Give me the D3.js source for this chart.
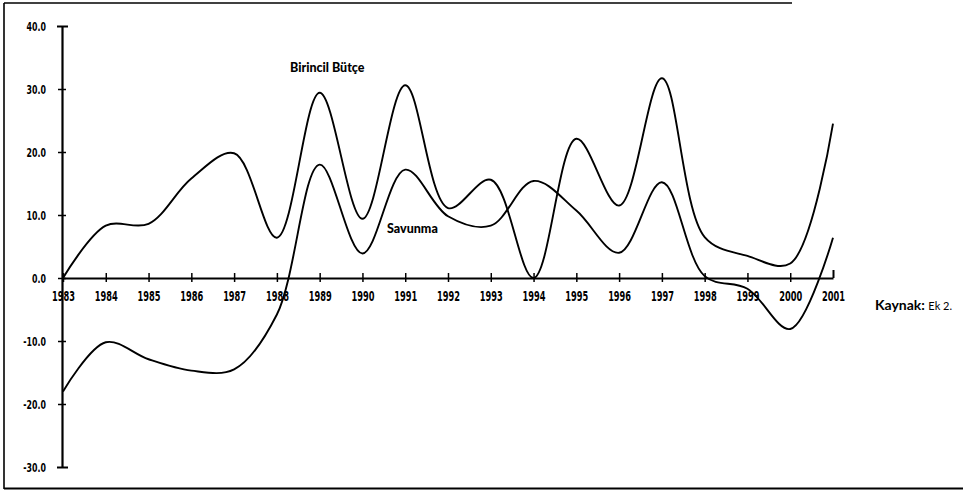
<!DOCTYPE html>
<html>
<head>
<meta charset="utf-8">
<script src="https://cdn.jsdelivr.net/npm/d3@7/dist/d3.min.js"></script>
<style>
  body { margin: 0; background: #fff; }
  svg { display: block; }
</style>
</head>
<body>
<div id="graph"></div>
<script>
var years = [1983, 1984, 1985, 1986, 1987, 1988, 1989, 1990, 1991, 1992,
  1993, 1994, 1995, 1996, 1997, 1998, 1999, 2000, 2001]
var birincil = [0, 8.3, 8.6, 15.8, 19.8, 6.4, 29.4, 9.4, 30.6, 11.1,
  15.6, 0, 22.1, 11.5, 31.7, 6.5, 3.5, 2.3, 24.5]
var savunma = [-18, -10.2, -12.9, -14.7, -14.5, -5.8, 18, 3.9, 17.2, 9.8,
  8.3, 15.4, 10.7, 4, 15.2, 0.3, -1.7, -8.1, 6.4]
var yTicks = [-30, -20, -10, 0, 10, 20, 30, 40]

var width = 963, height = 492

var svg = d3.select('#graph')
  .append('svg')
  .attr('width', width)
  .attr('height', height)

// scanned page frame (left, top, bottom)
svg.append('line').attr('x1', 4).attr('x2', 4).attr('y1', 3).attr('y2', 489)
  .attr('stroke', '#000').attr('stroke-width', 1.6)
svg.append('line').attr('x1', 4).attr('x2', 792).attr('y1', 3).attr('y2', 3)
  .attr('stroke', '#000').attr('stroke-width', 1.4)
svg.append('line').attr('x1', 4).attr('x2', width).attr('y1', 488.5).attr('y2', 488.5)
  .attr('stroke', '#000').attr('stroke-width', 2)

var x = d3.scaleLinear().domain([1983, 2001]).range([63, 833])
var y = d3.scaleLinear().domain([-30, 40]).range([467, 26])

var tickFont = '"DejaVu Sans Condensed", "DejaVu Sans", sans-serif'

// y axis
var yAxis = svg.append('g')
  .attr('transform', 'translate(62,0)')
  .call(d3.axisLeft(y).tickValues(yTicks).tickFormat(d3.format('.1f')).tickSizeOuter(0))
yAxis.select('.domain').attr('stroke', '#000').attr('stroke-width', 2.2)
yAxis.selectAll('.tick line')
  .attr('x1', -4).attr('x2', 4)
  .attr('stroke', '#000').attr('stroke-width', 1.5)
yAxis.selectAll('.tick line')
  .filter(d => d == 40 || d == -30)
  .attr('x1', -5).attr('x2', 6).attr('stroke-width', 2)
yAxis.selectAll('.tick text')
  .attr('x', 0).attr('dy', '0.35em')
  .attr('transform', 'translate(-16,0) scale(0.7,1)')
  .attr('font-family', tickFont)
  .attr('font-weight', 'bold')
  .attr('font-size', 12.5)
  .attr('fill', '#000')
  .text(d => (d < 0 ? '-' : '') + d3.format('.1f')(Math.abs(d)))

// x axis at zero
var xAxis = svg.append('g')
  .attr('transform', 'translate(0,' + y(0) + ')')
  .call(d3.axisBottom(x).tickValues(years).tickFormat(d3.format('d')).tickSizeOuter(0))
xAxis.select('.domain').attr('stroke', '#000').attr('stroke-width', 2)
xAxis.selectAll('.tick line')
  .attr('y1', -5).attr('y2', 4)
  .attr('stroke', '#000').attr('stroke-width', 1.5)
xAxis.selectAll('.tick line')
  .filter(d => d == 2001)
  .attr('y1', -8).attr('y2', 0).attr('stroke-width', 2)
xAxis.selectAll('.tick text')
  .attr('y', 0).attr('dy', 0)
  .attr('transform', 'translate(0,22.5) scale(0.68,1)')
  .attr('font-family', tickFont)
  .attr('font-weight', 'bold')
  .attr('font-size', 13.5)
  .attr('fill', '#000')

// smoothed lines
var line = d3.line()
  .x(d => x(d[0]))
  .y(d => y(d[1]))
  .curve(d3.curveCatmullRom.alpha(0.5))

var series = [birincil, savunma]
svg.selectAll('.series')
  .data(series)
  .enter()
  .append('path')
  .attr('class', 'series')
  .attr('fill', 'none')
  .attr('stroke', '#000')
  .attr('stroke-width', 1.9)
  .attr('d', s => line(years.map((yr, i) => [yr, s[i]])))

// labels
var labelFont = 'Lato, "Open Sans", sans-serif'
svg.append('text')
  .attr('x', 290).attr('y', 72)
  .attr('font-family', labelFont).attr('font-weight', 900).attr('font-size', 12.5)
  .text('Birincil Bütçe')
svg.append('text')
  .attr('x', 387).attr('y', 233)
  .attr('font-family', labelFont).attr('font-weight', 900).attr('font-size', 12.5)
  .text('Savunma')

var src = svg.append('text')
  .attr('x', 875).attr('y', 310)
  .attr('font-family', labelFont)
src.append('tspan').attr('font-weight', 'bold').attr('font-size', 14).text('Kaynak: ')
src.append('tspan').attr('font-size', 11).text('Ek 2.')
</script>
</body>
</html>
